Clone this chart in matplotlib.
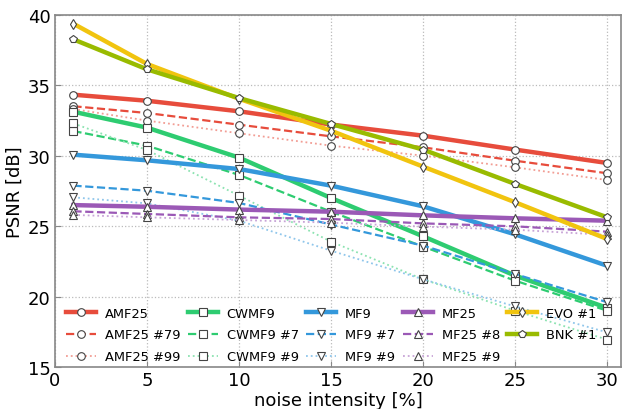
import matplotlib
matplotlib.use("Agg")
import matplotlib.pyplot as plt
from matplotlib.colors import to_rgb

x = [1, 5, 10, 15, 20, 25, 30]

amf25    = [34.34, 33.91, 33.16, 32.22, 31.43, 30.44, 29.49]
amf25_79 = [33.52, 33.04, 32.21, 31.38, 30.60, 29.65, 28.76]
amf25_99 = [33.32, 32.50, 31.60, 30.72, 30.01, 29.18, 28.28]
cwmf9    = [33.13, 32.00, 29.87, 27.00, 24.28, 21.49, 19.20]
cwmf9_7  = [31.76, 30.72, 28.64, 26.03, 23.55, 21.13, 19.00]
cwmf9_9  = [32.30, 30.41, 27.17, 23.90, 21.23, 19.00, 16.94]
mf9      = [30.08, 29.68, 29.06, 27.88, 26.41, 24.42, 22.19]
mf9_7    = [27.88, 27.52, 26.65, 25.12, 23.62, 21.60, 19.60]
mf9_9    = [27.05, 26.62, 25.39, 23.26, 21.23, 19.30, 17.46]
mf25     = [26.50, 26.38, 26.18, 26.03, 25.77, 25.56, 25.39]
mf25_8   = [26.06, 25.87, 25.63, 25.51, 25.20, 24.99, 24.61]
mf25_9   = [25.80, 25.63, 25.44, 25.25, 24.97, 24.75, 24.38]
evo1     = [39.38, 36.52, 34.05, 31.78, 29.23, 26.70, 24.09]
bnk1     = [38.27, 36.14, 34.10, 32.26, 30.44, 28.00, 25.63]

RED, GREEN, BLUE, PURPLE = "#e74c3c", "#2ecc71", "#3498db", "#9b59b6"
YELLOW, LIME = "#f1c40f", "#99bb00"

series = [
    ("AMF25", amf25, RED, "-", "o"),
    ("AMF25 #79", amf25_79, RED, "--", "o"),
    ("AMF25 #99", amf25_99, RED, ":", "o"),
    ("CWMF9", cwmf9, GREEN, "-", "s"),
    ("CWMF9 #7", cwmf9_7, GREEN, "--", "s"),
    ("CWMF9 #9", cwmf9_9, GREEN, ":", "s"),
    ("MF9", mf9, BLUE, "-", "v"),
    ("MF9 #7", mf9_7, BLUE, "--", "v"),
    ("MF9 #9", mf9_9, BLUE, ":", "v"),
    ("MF25", mf25, PURPLE, "-", "^"),
    ("MF25 #8", mf25_8, PURPLE, "--", "^"),
    ("MF25 #9", mf25_9, PURPLE, ":", "^"),
    ("EVO #1", evo1, YELLOW, "-", "d"),
    ("BNK #1", bnk1, LIME, "-", "p"),
]


def lighten(c, f):
    r, g, b = to_rgb(c)
    return (r + (1 - r) * f, g + (1 - g) * f, b + (1 - b) * f)


fig = plt.figure(figsize=(6.22, 4.10), dpi=100)
ax = fig.add_axes([55/622, 42/410, 566/622, 352/410])

for name, vals, col, ls, mk in series:
    if ls == "-":
        lw, c = 3.2, col
    elif ls == "--":
        lw, c = 1.6, col
    else:
        lw, c = 1.3, lighten(col, 0.45)
    ax.plot(x, vals, linestyle=ls, color=c, lw=lw, label=name,
            marker=mk, markersize=5.5, markerfacecolor="white",
            markeredgecolor="#444444", markeredgewidth=0.8)

ax.set_xlim(0, 30.75)
ax.set_ylim(15, 40)
ax.set_xticks([0, 5, 10, 15, 20, 25, 30])
ax.set_yticks([15, 20, 25, 30, 35, 40])
ax.grid(True, color="#bbbbbb", linestyle=":", linewidth=0.9)
for s in ax.spines.values():
    s.set_color("#888888")
    s.set_linewidth(1.2)
ax.tick_params(direction="in", length=4, labelsize=13, color="#888888",
               top=False, right=False, pad=3)
ax.set_xlabel("noise intensity [%]", fontsize=13, labelpad=1)
ax.set_ylabel("PSNR [dB]", fontsize=13, labelpad=3)

ax.legend(ncol=5, loc="lower left", bbox_to_anchor=(0.012, 0.0),
          frameon=False, fontsize=9.4, numpoints=1, handlelength=2.3,
          columnspacing=0.55, handletextpad=0.7, labelspacing=0.66,
          borderaxespad=0.0, borderpad=0.3)

fig.savefig("out.png", dpi=100)
